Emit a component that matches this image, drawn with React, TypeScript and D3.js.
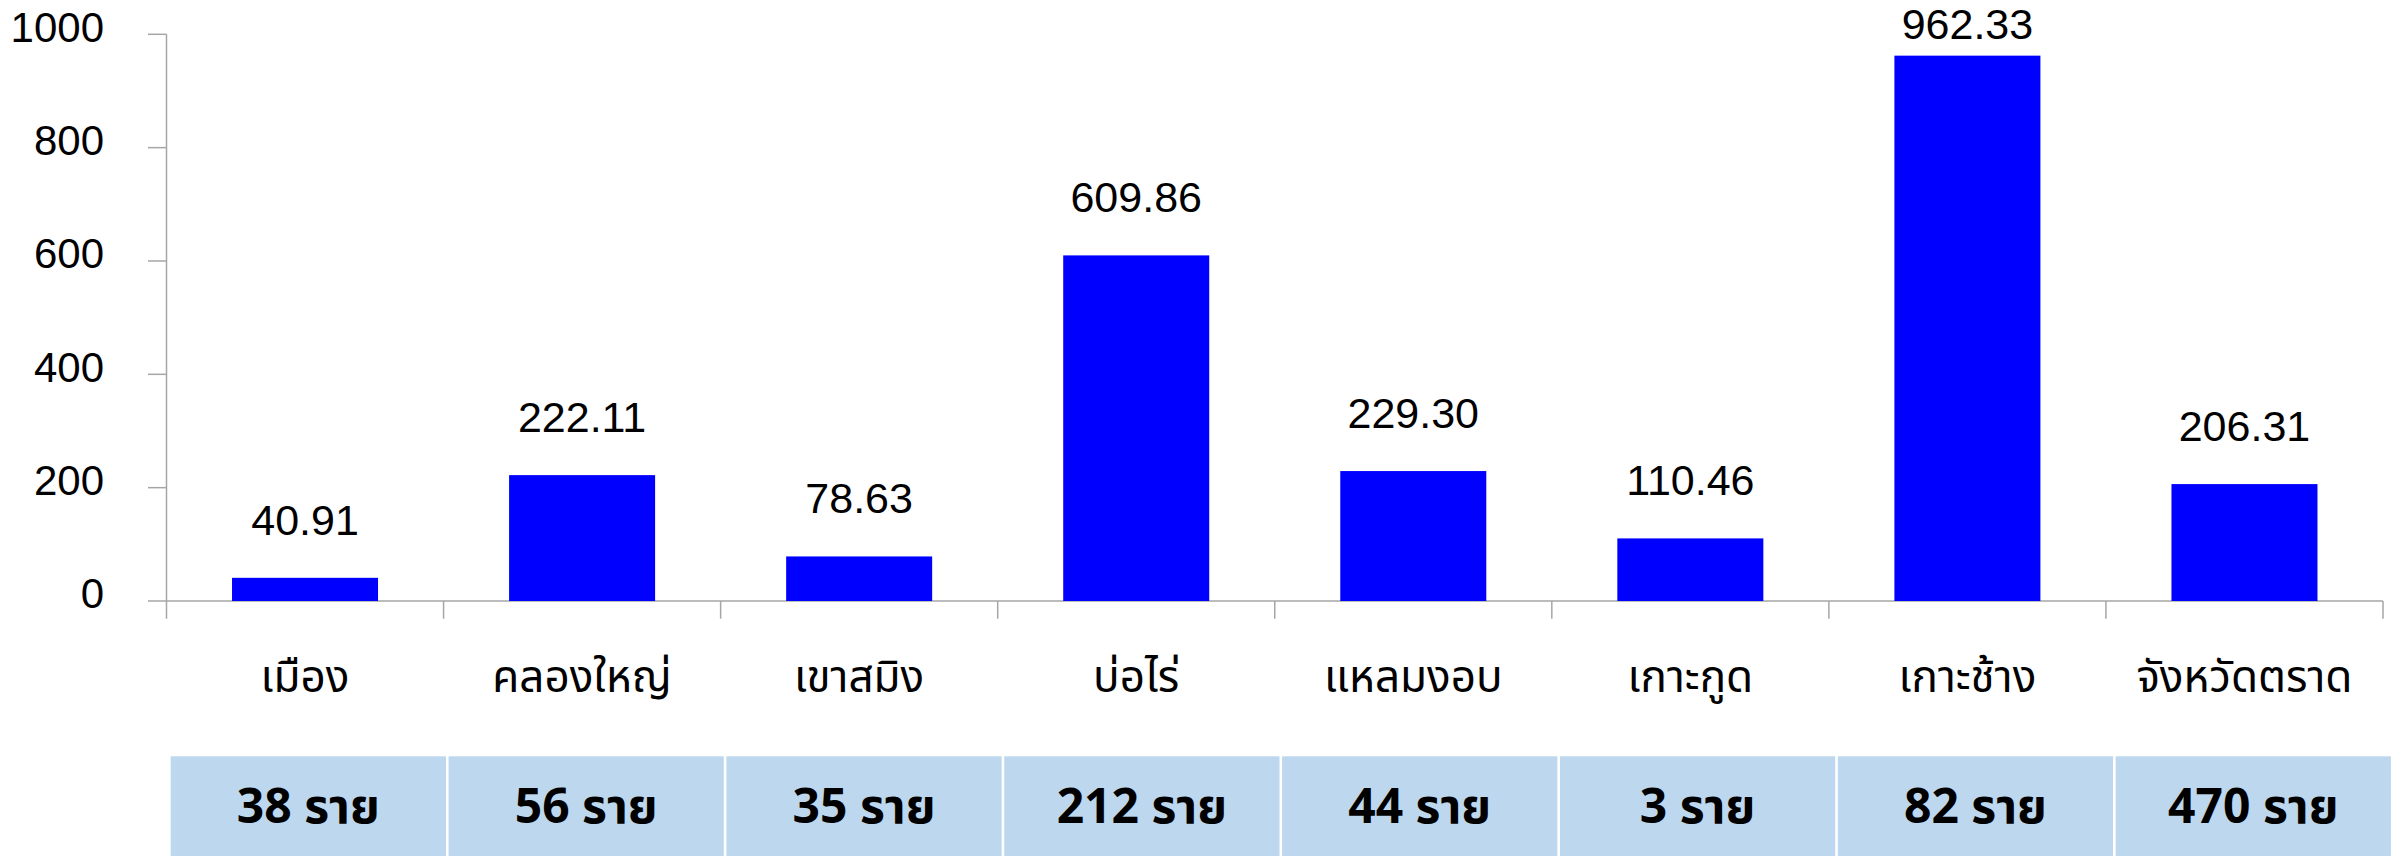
import React from "react";
import * as d3 from "d3";

const categories = ["เมือง", "คลองใหญ่", "เขาสมิง", "บ่อไร่", "แหลมงอบ", "เกาะกูด", "เกาะช้าง", "จังหวัดตราด"];
const values = [40.91, 222.11, 78.63, 609.86, 229.3, 110.46, 962.33, 206.31];
const counts = ["38 ราย", "56 ราย", "35 ราย", "212 ราย", "44 ราย", "3 ราย", "82 ราย", "470 ราย"];
const yTicks = [0, 200, 400, 600, 800, 1000];

const W = 2397;
const H = 856;
const FONT = "'Noto Sans Thai', 'Noto Sans', 'DejaVu Sans', sans-serif";
const NUM_FONT = "'Liberation Sans', Arial, sans-serif";

export default function App() {
  const x0 = 166.5;
  const x1 = 2383;
  const yZero = 601;
  const yTop = 34.3;

  const x = d3.scaleBand<string>().domain(categories).range([x0, x1]).paddingInner(0).paddingOuter(0);
  const bw = x.bandwidth() * 0.527;
  const y = d3.scaleLinear().domain([0, 1000]).range([yZero, yTop]);

  const tx = d3.scaleBand<string>().domain(categories).range([170.7, 2393.5]).paddingInner(0);
  const cellGap = 2.6;

  const axisColor = "#A6A6A6";

  return (
    <svg width={W} height={H} style={{ position: "absolute", left: 0, top: 0, background: "#fff" }} fontFamily={FONT}>
      <rect x={0} y={0} width={W} height={H} fill="#fff" />
      {/* y axis */}
      <line x1={x0} x2={x0} y1={y(1000)} y2={618.7} stroke={axisColor} strokeWidth={1.5} />
      {yTicks.map((t) => (
        <g key={t}>
          <line x1={148} x2={x0} y1={y(t)} y2={y(t)} stroke={axisColor} strokeWidth={1.5} />
          <text x={104} y={y(t) + 7.2} textAnchor="end" fontSize={42} fontFamily={NUM_FONT} fill="#000">
            {t}
          </text>
        </g>
      ))}
      {/* x axis */}
      <line x1={x0} x2={x1} y1={yZero} y2={yZero} stroke={axisColor} strokeWidth={1.5} />
      {categories.map((c, i) => (
        <line key={"t" + i} x1={(x(c) as number) + x.bandwidth()} x2={(x(c) as number) + x.bandwidth()} y1={yZero} y2={618.7} stroke={axisColor} strokeWidth={1.5} />
      ))}
      {/* bars */}
      {categories.map((c, i) => {
        const cx = (x(c) as number) + x.bandwidth() / 2;
        return (
          <g key={"b" + i}>
            <rect x={cx - bw / 2} y={y(values[i])} width={bw} height={yZero - y(values[i])} fill="#0000FF" />
            <text x={cx} y={Math.max(y(values[i]) - 43, 39)} textAnchor="middle" fontSize={43} fontFamily={NUM_FONT} fill="#000">
              {values[i].toFixed(2)}
            </text>
            <text x={cx} y={691.7} textAnchor="middle" fontSize={44} fill="#000">
              {c}
            </text>
          </g>
        );
      })}
      {/* table */}
      {categories.map((c, i) => {
        const left = tx(c) as number;
        const w = tx.bandwidth() - cellGap;
        return (
          <g key={"c" + i}>
            <rect x={left} y={756.3} width={w} height={H - 756.3} fill="#BDD7EE" />
            <text x={left + w / 2} y={823} textAnchor="middle" fontSize={48} fontWeight="bold" fill="#000">
              {counts[i]}
            </text>
          </g>
        );
      })}
    </svg>
  );
}
